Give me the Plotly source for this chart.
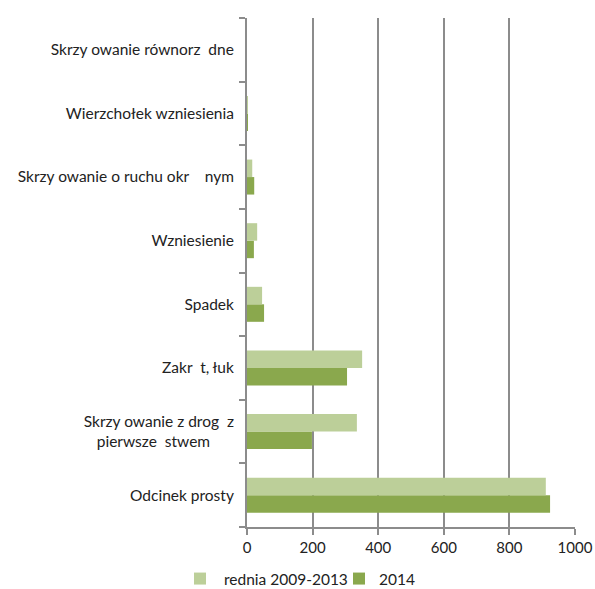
import plotly.graph_objects as go

NB = "\u00a0"
categories = [
    "Odcinek prosty",
    "Skrzy" + NB + "owanie z drog" + NB + NB + "z<br>pierwsze" + NB + NB + "stwem" + NB * 6,
    "Zakr" + NB + NB + "t, łuk",
    "Spadek",
    "Wzniesienie",
    "Skrzy" + NB + "owanie o ruchu okr" + NB * 4 + "nym",
    "Wierzchołek wzniesienia",
    "Skrzy" + NB + "owanie równorz" + NB + NB + "dne",
]
avg_2009_2013 = [911, 335, 351, 46, 31, 16, 1, 0]
y2014 = [924, 198, 305, 52, 21, 22, 2, 0]
x_ticks = [0, 200, 400, 600, 800, 1000]

light = "#bccf99"
dark = "#8aa84d"
grid = "#8c8c8c"
font = "Lato"

fig = go.Figure()
fig.add_trace(go.Bar(y=categories, x=y2014, orientation="h", name="2014",
                     marker=dict(color=dark, line=dict(width=0))))
fig.add_trace(go.Bar(y=categories, x=avg_2009_2013, orientation="h",
                     name=NB + "rednia 2009-2013",
                     marker=dict(color=light, line=dict(width=0))))

fig.update_layout(
    width=595, height=589,
    margin=dict(l=247, r=20, t=18, b=62, autoexpand=False),
    paper_bgcolor="white", plot_bgcolor="white",
    barmode="group", bargap=0.45, bargroupgap=0,
    font=dict(family=font, size=15, color="#222222"),
    showlegend=True,
    legend=dict(orientation="h", xref="container", yref="container",
                x=0.3025, xanchor="left", y=0.017, yanchor="middle",
                traceorder="reversed", font=dict(size=15.5), itemwidth=30,
                entrywidth=114, entrywidthmode="pixels", bgcolor="rgba(0,0,0,0)"),
    xaxis=dict(range=[0, 1000], tickvals=x_ticks, showgrid=True, gridcolor=grid,
               gridwidth=2, zeroline=False, showline=True, linecolor=grid, linewidth=2,
               ticks="outside", ticklen=6, tickcolor=grid, tickwidth=2,
               tickfont=dict(size=15), automargin=False),
    yaxis=dict(categoryorder="array", categoryarray=categories, showgrid=False,
               showline=True, linecolor=grid, linewidth=2, ticks="outside",
               tickson="boundaries", ticklen=6, tickcolor=grid, tickwidth=2,
               ticklabelstandoff=8, tickfont=dict(size=15.5), automargin=False),
)

fig.write_html("out.html", config={"displayModeBar": False},
               post_script="document.body.style.margin='0';")
